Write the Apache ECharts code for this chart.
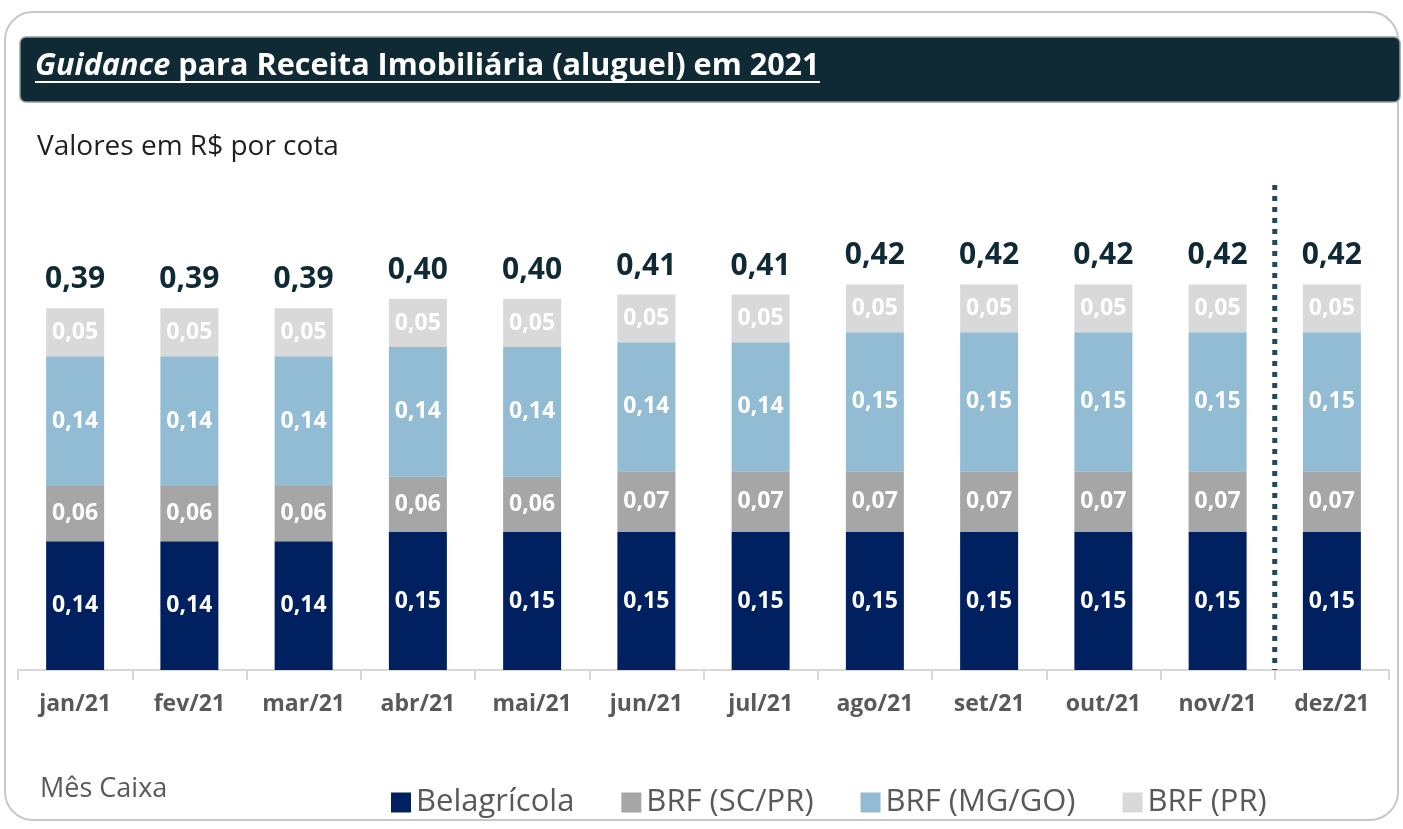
<!DOCTYPE html>
<html>
<head>
<meta charset="utf-8">
<script src="https://cdn.jsdelivr.net/npm/echarts@6/dist/echarts.min.js"></script>
<style>
  html, body { margin: 0; padding: 0; background: #fff; }
  #chart { width: 1403px; height: 829px; }
</style>
</head>
<body>
<div id="chart"></div>
<script>
// meses (categorias)
var months = ["jan/21", "fev/21", "mar/21", "abr/21", "mai/21", "jun/21",
              "jul/21", "ago/21", "set/21", "out/21", "nov/21", "dez/21"];

// valores em R$ por cota
var belagricola = [0.140, 0.140, 0.140, 0.150, 0.150, 0.150, 0.150, 0.150, 0.150, 0.150, 0.150, 0.150];
var brfScPr     = [0.060, 0.060, 0.060, 0.060, 0.060, 0.066, 0.066, 0.066, 0.066, 0.066, 0.066, 0.066];
var brfMgGo     = [0.141, 0.141, 0.141, 0.141, 0.141, 0.140, 0.140, 0.151, 0.151, 0.151, 0.151, 0.151];
var brfPr       = [0.052, 0.052, 0.052, 0.052, 0.052, 0.052, 0.052, 0.052, 0.052, 0.052, 0.052, 0.052];

var seriesNames = ["Belagrícola", "BRF (SC/PR)", "BRF (MG/GO)", "BRF (PR)"];
var colors = ["#002060", "#a6a6a6", "#92bcd3", "#d9d9d9"];

var totals = months.map(function (m, i) {
  return +(belagricola[i] + brfScPr[i] + brfMgGo[i] + brfPr[i]).toFixed(3);
});

function fmt(v) {
  return v.toFixed(2).replace(".", ",");
}

var FONT = "'Open Sans', 'Noto Sans', sans-serif";

function barSeries(name, data, color) {
  return {
    name: name,
    type: "bar",
    stack: "total",
    data: data,
    barWidth: 58,
    itemStyle: { color: color },
    label: {
      show: true,
      position: "inside",
      color: "#ffffff",
      fontFamily: FONT,
      fontWeight: "bold",
      fontSize: 23,
      formatter: function (p) { return fmt(p.value); }
    }
  };
}

var chart = echarts.init(document.getElementById("chart"));

var option = {
  animation: false,
  textStyle: { fontFamily: FONT },
  grid: { left: 18, right: 14, top: 185, bottom: 159 },
  legend: {
    data: seriesNames,
    left: 386,
    top: 782,
    itemWidth: 20,
    itemHeight: 20,
    itemGap: 47,
    icon: "rect",
    textStyle: { fontFamily: FONT, fontSize: 31, color: "#595959" }
  },
  xAxis: {
    type: "category",
    data: months,
    axisLine: { lineStyle: { color: "#d9d9d9", width: 2 } },
    axisTick: { show: true, length: 10, lineStyle: { color: "#d9d9d9", width: 2 } },
    axisLabel: {
      margin: 23,
      color: "#595959",
      fontFamily: FONT,
      fontWeight: "bold",
      fontSize: 23
    }
  },
  yAxis: {
    type: "value",
    min: 0,
    max: 0.527,
    show: false,
    splitLine: { show: false }
  },
  series: [
    barSeries(seriesNames[0], belagricola, colors[0]),
    barSeries(seriesNames[1], brfScPr, colors[1]),
    barSeries(seriesNames[2], brfMgGo, colors[2]),
    barSeries(seriesNames[3], brfPr, colors[3]),
    {
      name: "Total",
      type: "scatter",
      data: totals,
      symbolSize: 1,
      itemStyle: { color: "rgba(0,0,0,0)", opacity: 1 },
      label: {
        show: true,
        position: "top",
        distance: 13,
        color: "#0f2a35",
        fontFamily: FONT,
        fontWeight: "bold",
        fontSize: 30,
        formatter: function (p) { return fmt(p.value); }
      }
    }
  ],
  graphic: [
    {
      type: "rect",
      shape: { x: 5, y: 12, width: 1393, height: 808, r: 28 },
      style: { fill: "none", stroke: "#c8c8c8", lineWidth: 2 },
      z: -10
    },
    {
      type: "rect",
      shape: { x: 20, y: 37, width: 1380, height: 65, r: 6 },
      style: { fill: "#0f2a35", stroke: "#9a9a9a", lineWidth: 1.5 }
    },
    {
      type: "text",
      x: 35,
      y: 66,
      style: {
        text: "{i|Guidance}{b| para Receita Imobiliária (aluguel) em 2021}",
        verticalAlign: "middle",
        rich: {
          i: { fontFamily: FONT, fontStyle: "italic", fontWeight: "bold", fontSize: 30.6, fill: "#ffffff" },
          b: { fontFamily: FONT, fontWeight: "bold", fontSize: 30.6, fill: "#ffffff" }
        }
      }
    },
    {
      type: "line",
      shape: { x1: 35, y1: 82, x2: 820, y2: 82 },
      style: { stroke: "#ffffff", lineWidth: 2 }
    },
    {
      type: "text",
      x: 37,
      y: 147,
      style: {
        text: "Valores em R$ por cota",
        verticalAlign: "middle",
        fontFamily: FONT,
        fontSize: 28,
        fill: "#1f1f1f"
      }
    },
    {
      type: "text",
      x: 40,
      y: 789,
      style: {
        text: "Mês Caixa",
        verticalAlign: "middle",
        fontFamily: FONT,
        fontSize: 27,
        fill: "#595959"
      }
    }
  ]
};

chart.setOption(option);

// linha pontilhada entre nov/21 e dez/21
var xNov = chart.convertToPixel({ xAxisIndex: 0 }, months[10]);
var xDez = chart.convertToPixel({ xAxisIndex: 0 }, months[11]);
var xSep = (xNov + xDez) / 2;
var yBase = chart.convertToPixel({ yAxisIndex: 0 }, 0);
chart.setOption({
  graphic: option.graphic.concat([{
    type: "line",
    shape: { x1: xSep, y1: 185, x2: xSep, y2: yBase },
    style: { stroke: "#234a5c", lineWidth: 5, lineDash: [5, 6] },
    z: 10
  }])
});
</script>
</body>
</html>
